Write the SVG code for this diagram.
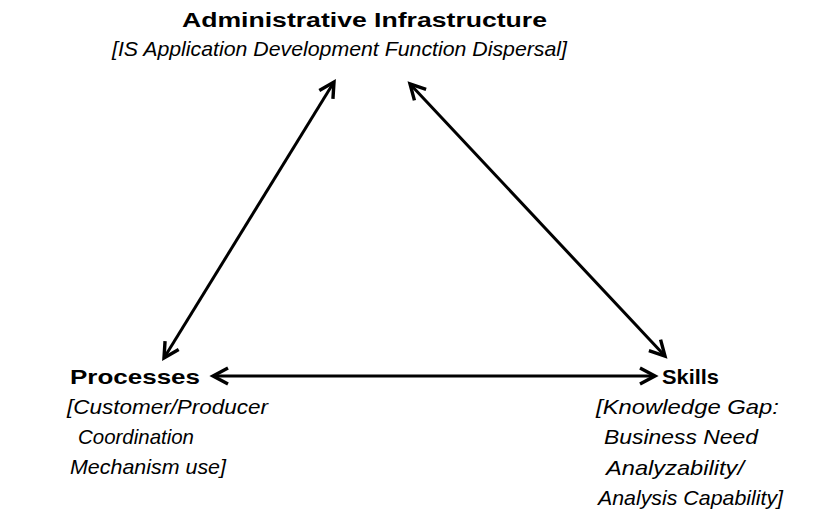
<svg xmlns="http://www.w3.org/2000/svg" width="835" height="520" viewBox="0 0 835 520">
<style>
text{font-family:"Liberation Sans",Arial,Helvetica,sans-serif;fill:#000}
.h{font-weight:bold;font-size:21px}
.t{font-weight:bold;font-size:20px}
.i{font-style:italic;font-size:21px}
.c{stroke:#000;stroke-width:3;fill:none;marker-start:url(#ah);marker-end:url(#ah)}
</style>
<defs>
<marker id="ah" markerUnits="userSpaceOnUse" markerWidth="30" markerHeight="30" viewBox="-20 -15 25 30" refX="0" refY="0" orient="auto-start-reverse">
<path d="M-15,-8 L0,0 L-15,8" fill="none" stroke="#000" stroke-width="3.4" stroke-linejoin="miter"/>
</marker>
</defs>
<rect width="835" height="520" fill="#fff"/>
<g id="connectors">
<line class="c" x1="334" y1="82" x2="164" y2="358"/>
<line class="c" x1="410" y1="84" x2="665" y2="356"/>
<line class="c" x1="213" y1="376" x2="655" y2="376"/>
</g>
<g id="node-admin">
<text class="t" x="182" y="27" textLength="365" lengthAdjust="spacingAndGlyphs">Administrative Infrastructure</text>
<text class="i" x="112" y="56" textLength="455" lengthAdjust="spacingAndGlyphs">[IS Application Development Function Dispersal]</text>
</g>
<g id="node-processes">
<text class="h" x="70" y="384" textLength="130" lengthAdjust="spacingAndGlyphs">Processes</text>
<text class="i" x="67" y="414" textLength="201" lengthAdjust="spacingAndGlyphs">[Customer/Producer</text>
<text class="i" x="78" y="444" textLength="116" lengthAdjust="spacingAndGlyphs">Coordination</text>
<text class="i" x="70" y="474" textLength="156" lengthAdjust="spacingAndGlyphs">Mechanism use]</text>
</g>
<g id="node-skills">
<text class="h" x="662" y="384" textLength="57" lengthAdjust="spacingAndGlyphs">Skills</text>
<text class="i" x="596" y="414" textLength="183" lengthAdjust="spacingAndGlyphs">[Knowledge Gap:</text>
<text class="i" x="604" y="444" textLength="154" lengthAdjust="spacingAndGlyphs">Business Need</text>
<text class="i" x="606" y="475" textLength="138" lengthAdjust="spacingAndGlyphs">Analyzability/</text>
<text class="i" x="598" y="505" textLength="185" lengthAdjust="spacingAndGlyphs">Analysis Capability]</text>
</g>
</svg>
